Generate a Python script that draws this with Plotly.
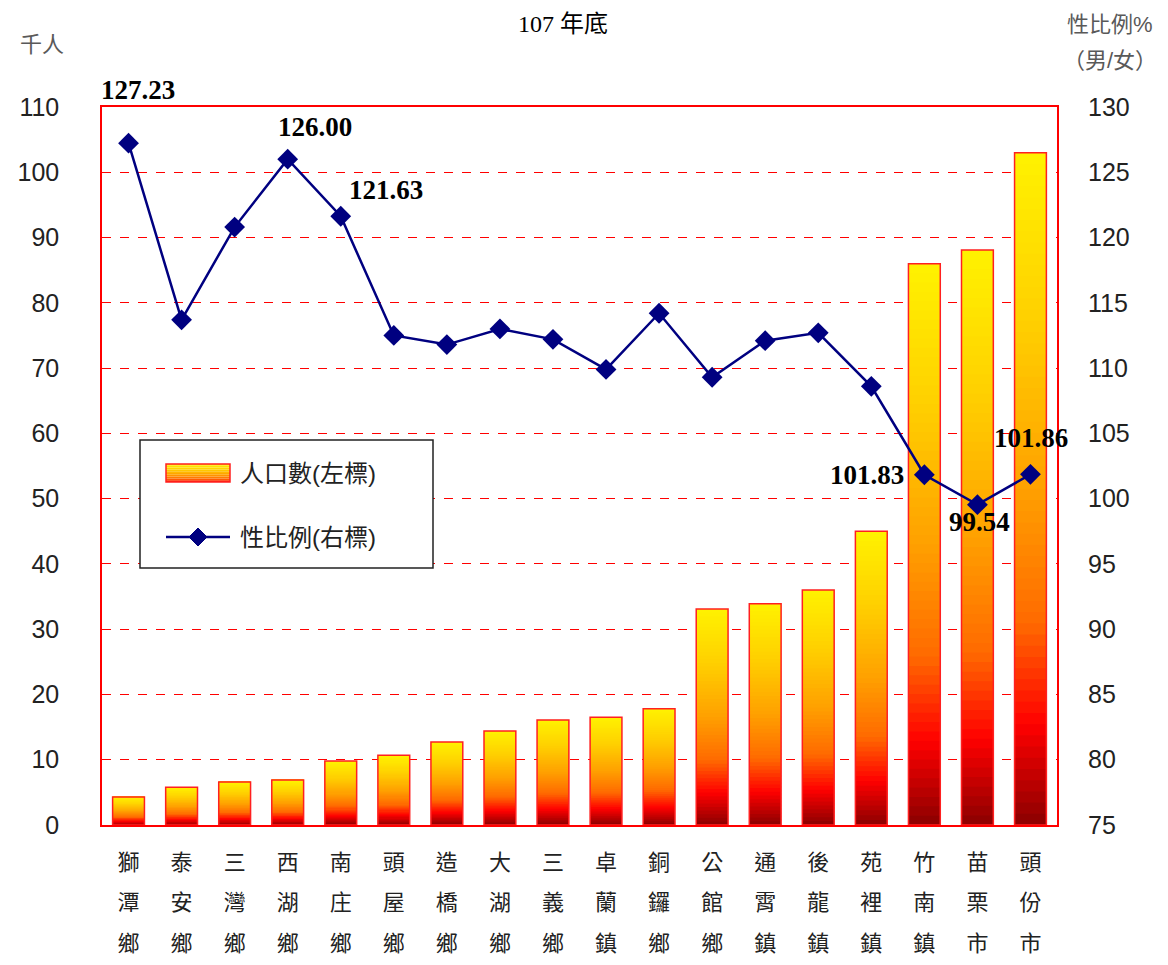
import plotly.graph_objects as go
from plotly.colors import sample_colorscale

# ---------------- data ----------------
categories = ["獅潭鄉", "泰安鄉", "三灣鄉", "西湖鄉", "南庄鄉", "頭屋鄉", "造橋鄉", "大湖鄉", "三義鄉",
              "卓蘭鎮", "銅鑼鄉", "公館鄉", "通霄鎮", "後龍鎮", "苑裡鎮", "竹南鎮", "苗栗市", "頭份市"]
population = [4.3, 5.8, 6.6, 6.9, 9.8, 10.7, 12.7, 14.4, 16.1,
              16.5, 17.8, 33.1, 33.9, 36.0, 45.0, 86.0, 88.1, 103.0]
sex_ratio = [127.23, 113.7, 120.8, 126.00, 121.63, 112.5, 111.8, 113.0, 112.2,
             109.9, 114.2, 109.3, 112.1, 112.7, 108.6, 101.83, 99.54, 101.86]
labeled = ["獅潭鄉", "西湖鄉", "南庄鄉", "竹南鎮", "苗栗市", "頭份市"]
left_ticks = list(range(0, 111, 10))
right_ticks = list(range(75, 131, 5))

# ---------------- styles ----------------
gradient = [[0.0, "#8B0000"], [0.15, "#FF0000"], [0.3, "#FF6A00"],
            [0.5, "#FFA000"], [0.75, "#FFD000"], [1.0, "#FFF200"]]
label_offsets = {"獅潭鄉": (9, 53), "西湖鄉": (27, 32), "南庄鄉": (45, 26),
                 "竹南鎮": (-57, 0), "苗栗市": (2, -17), "頭份市": (1, 36)}
N = 60
serif = "Liberation Serif, Noto Sans CJK TC"
sans = "Liberation Sans, Noto Sans CJK TC"

# the page body has an 8px margin; size the figure so the plot lands where the reference has it
OFF = 8
W, H = 1168 - 2 * OFF, 965 - 2 * OFF
PL, PR, PT, PB = 102, 1057, 107, 825  # plot area in page pixels
ML, MT = PL - OFF, PT - OFF
MR, MB = W - (PR - OFF), H - (PB - OFF)
PW, PH = PR - PL, PB - PT


def px(x):
    return (x - PL) / PW


def py(y):
    return (PB - y) / PH


fig = go.Figure()

seg_colors = sample_colorscale(gradient, [(i + 0.5) / N for i in range(N)])
for i in range(N):
    base = [v * i / N for v in population]
    h = [min(v / N * 1.6, v - b) for v, b in zip(population, base)]
    fig.add_trace(go.Bar(x=categories, y=h, base=base, marker=dict(color=seg_colors[i], line=dict(width=0)),
                         showlegend=False, hoverinfo="skip"))

fig.add_trace(go.Bar(x=categories, y=population, base=[0] * len(population), name="人口數(左標)",
                     marker=dict(color="rgba(0,0,0,0)", line=dict(color="#FF2020", width=1.5)),
                     showlegend=False))

fig.add_trace(go.Scatter(x=categories, y=sex_ratio, yaxis="y2", mode="lines+markers", name="性比例(右標)",
                         line=dict(color="#000080", width=2.5),
                         marker=dict(symbol="diamond", size=16, color="#000080"), showlegend=False))

annotations = []
for c in labeled:
    i = categories.index(c)
    dx, dy = label_offsets[c]
    annotations.append(dict(x=c, y=sex_ratio[i], xref="x", yref="y2", text=f"{sex_ratio[i]:.2f}",
                            showarrow=False, xshift=dx, yshift=dy, xanchor="center", yanchor="middle",
                            font=dict(family=serif, size=27, color="#000000", weight="bold")))

# titles / unit labels
annotations.append(dict(x=px(563), y=py(24), xref="paper", yref="paper", text="107 年底", showarrow=False,
                        font=dict(family=serif, size=24, color="#000000"), xanchor="center", yanchor="middle"))
annotations.append(dict(x=px(42), y=py(45), xref="paper", yref="paper", text="千人", showarrow=False,
                        font=dict(family=serif, size=22, color="#595959"), xanchor="center", yanchor="middle"))
annotations.append(dict(x=px(1110), y=py(25), xref="paper", yref="paper", text="性比例%", showarrow=False,
                        font=dict(family=sans, size=22, color="#595959"), xanchor="center", yanchor="middle"))
annotations.append(dict(x=px(1110), y=py(60), xref="paper", yref="paper", text="（男/女）", showarrow=False,
                        font=dict(family=sans, size=22, color="#595959"), xanchor="center", yanchor="middle"))

# custom legend
shapes = [dict(type="rect", xref="paper", yref="paper", x0=px(140), x1=px(433), y0=py(568), y1=py(440),
               line=dict(color="#222222", width=1.5), fillcolor="white", layer="above")]
nleg = 10
leg_colors = sample_colorscale(gradient, [0.15 + 0.85 * (i + 0.5) / nleg for i in range(nleg)])
y_bot, y_top = 482, 464
for i in range(nleg):
    y0 = y_bot - (y_bot - y_top) * i / nleg
    y1 = y_bot - (y_bot - y_top) * (i + 1) / nleg
    shapes.append(dict(type="rect", xref="paper", yref="paper", x0=px(166), x1=px(230), y0=py(y0), y1=py(y1),
                       line=dict(width=0), fillcolor=leg_colors[i], layer="above"))
shapes.append(dict(type="rect", xref="paper", yref="paper", x0=px(166), x1=px(230), y0=py(y_bot), y1=py(y_top),
                   line=dict(color="#FF2020", width=1.5), fillcolor="rgba(0,0,0,0)", layer="above"))
shapes.append(dict(type="line", xref="paper", yref="paper", x0=px(166), x1=px(230), y0=py(537), y1=py(537),
                   line=dict(color="#000080", width=2.5), layer="above"))
cx, cy, r = 198, 537, 9
shapes.append(dict(type="path", xref="paper", yref="paper",
                   path=f"M {px(cx - r)} {py(cy)} L {px(cx)} {py(cy - r)} L {px(cx + r)} {py(cy)} L {px(cx)} {py(cy + r)} Z",
                   fillcolor="#000080", line=dict(color="#000080", width=1), layer="above"))
annotations.append(dict(x=px(238), y=py(473), xref="paper", yref="paper", text="人口數(左標)", showarrow=False,
                        xanchor="left", yanchor="middle", font=dict(family=sans, size=24, color="#222222")))
annotations.append(dict(x=px(238), y=py(537), xref="paper", yref="paper", text="性比例(右標)", showarrow=False,
                        xanchor="left", yanchor="middle", font=dict(family=sans, size=24, color="#222222")))

ticktext = ["<br>".join(f"<span style='font-size:22px'>{ch}</span>" for ch in c) for c in categories]

fig.update_layout(
    width=W, height=H,
    margin=dict(l=ML, r=MR, t=MT, b=MB, autoexpand=False),
    paper_bgcolor="white", plot_bgcolor="white",
    barmode="overlay", bargap=0.4,
    showlegend=False,
    annotations=annotations, shapes=shapes,
    xaxis=dict(tickmode="array", tickvals=categories, ticktext=ticktext, automargin=False,
               range=[-0.5, len(categories) - 0.5],
               tickfont=dict(family=serif, size=31, color="#222222"),
               showline=True, linecolor="#FF0000", linewidth=1.5, mirror=True, showgrid=False,
               ticks="", ticklabelstandoff=6),
    yaxis=dict(range=[0, 110], tickvals=left_ticks, showline=True, linecolor="#FF0000", linewidth=1.5,
               mirror=True, showgrid=True, gridcolor="#FF0000", griddash="dash", gridwidth=1.3,
               zeroline=False, ticks="", ticklabelstandoff=36, automargin=False,
               tickfont=dict(family=sans, size=25, color="#222222")),
    yaxis2=dict(range=[75, 130], tickvals=right_ticks, overlaying="y", side="right", showgrid=False,
                zeroline=False, showline=False, ticks="", ticklabelstandoff=30, automargin=False,
                tickfont=dict(family=sans, size=25, color="#222222")),
)

fig.write_html("out.html")
